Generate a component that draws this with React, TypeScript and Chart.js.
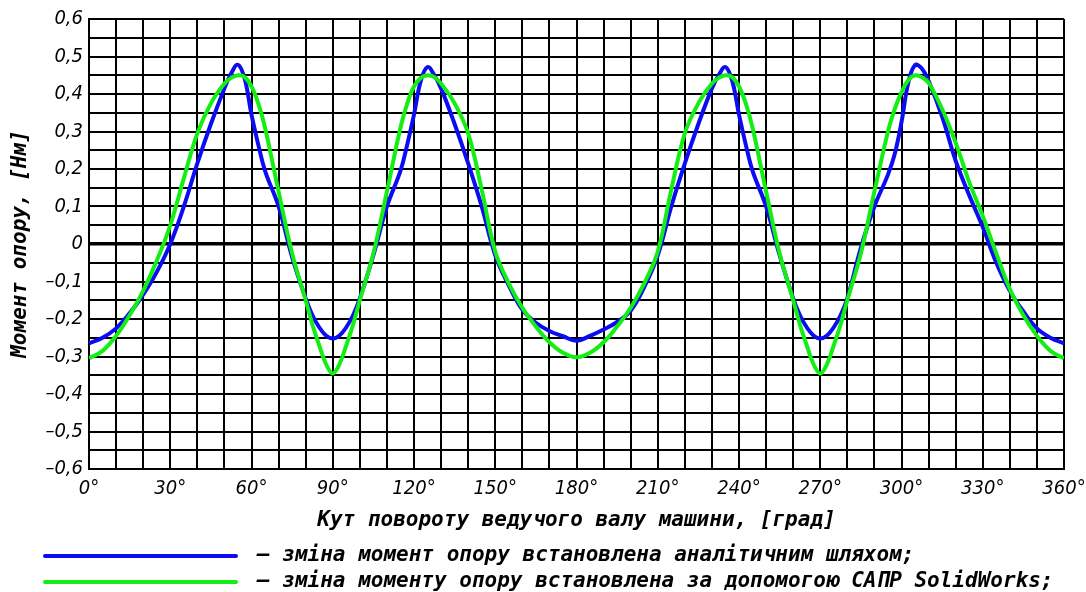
import { useEffect, useRef } from 'react';
import { Chart, registerables } from 'chart.js';

Chart.register(...registerables);

// Angle of the drive shaft, degrees
const angles = [
  0, 5, 10, 15, 20, 25, 30, 35, 40, 45, 50, 52.5, 55, 57.5, 60, 62.5, 65, 70, 75, 80,
  82.5, 85, 87.5, 90, 92.5, 95, 97.5, 100, 105, 110, 115, 117.5, 120, 122.5, 125, 127.5,
  130, 135, 140, 145, 150, 155, 160, 165, 170, 175, 180, 185, 190, 195, 200, 205, 210,
  215, 220, 225, 230, 232.5, 235, 237.5, 240, 242.5, 245, 250, 255, 260, 262.5, 265,
  267.5, 270, 272.5, 275, 277.5, 280, 285, 290, 295, 297.5, 300, 302.5, 305, 307.5, 310,
  315, 320, 325, 330, 335, 340, 345, 350, 355, 360,
];

// Analytic resistance moment, N·m
const analyticMoment = [
  -0.265, -0.25, -0.225, -0.185, -0.135, -0.075, 0.0, 0.1, 0.215, 0.32, 0.415, 0.455, 0.478,
  0.44, 0.345, 0.265, 0.195, 0.1, -0.035, -0.145, -0.19, -0.222, -0.244, -0.252, -0.244,
  -0.222, -0.19, -0.145, -0.03, 0.1, 0.195, 0.265, 0.345, 0.435, 0.472, 0.45, 0.415, 0.32,
  0.215, 0.1, -0.03, -0.11, -0.175, -0.21, -0.232, -0.246, -0.258, -0.245, -0.228, -0.208,
  -0.178, -0.115, -0.03, 0.1, 0.215, 0.32, 0.415, 0.45, 0.472, 0.435, 0.345, 0.265, 0.195,
  0.1, -0.03, -0.145, -0.19, -0.222, -0.244, -0.252, -0.244, -0.222, -0.19, -0.145, -0.01,
  0.1, 0.185, 0.24, 0.325, 0.43, 0.477, 0.468, 0.435, 0.34, 0.222, 0.13, 0.045, -0.05,
  -0.125, -0.18, -0.225, -0.25, -0.265,
];

// SolidWorks resistance moment, N·m
const solidWorksMoment = [
  -0.305, -0.285, -0.245, -0.19, -0.125, -0.045, 0.05, 0.175, 0.295, 0.375, 0.428, 0.443, 0.45,
  0.445, 0.42, 0.375, 0.31, 0.14, -0.025, -0.15, -0.215, -0.27, -0.32, -0.345, -0.32,
  -0.27, -0.215, -0.15, -0.025, 0.14, 0.31, 0.375, 0.42, 0.443, 0.45, 0.445, 0.428, 0.375,
  0.295, 0.145, -0.02, -0.105, -0.17, -0.22, -0.262, -0.29, -0.302, -0.29, -0.262, -0.22,
  -0.17, -0.105, -0.02, 0.145, 0.295, 0.375, 0.428, 0.443, 0.45, 0.445, 0.42, 0.375, 0.31, 0.14,
  -0.025, -0.15, -0.215, -0.27, -0.32, -0.345, -0.32, -0.27, -0.215, -0.15, -0.025,
  0.14, 0.3, 0.36, 0.405, 0.437, 0.45, 0.445, 0.43, 0.36, 0.27, 0.165, 0.075, -0.025, -0.12,
  -0.19, -0.245, -0.285, -0.305,
];

const xTickLabels = ['0°', '30°', '60°', '90°', '120°', '150°', '180°', '210°', '240°', '270°', '300°', '330°', '360°'];
const yTickLabels = ['–0,6', '–0,5', '–0,4', '–0,3', '–0,2', '–0,1', '0', '0,1', '0,2', '0,3', '0,4', '0,5', '0,6'];

const seriesLabels = [
  '– зміна момент опору встановлена аналітичним шляхом;',
  '– зміна моменту опору встановлена за допомогою САПР SolidWorks;',
];
const xTitle = 'Кут повороту ведучого валу машини, [град]';
const yTitle = 'Момент опору, [Нм]';

const BLUE = '#0c0cf2';
const GREEN = '#14ee14';

const tickFont = {
  family: "'DejaVu Sans Condensed', 'Liberation Sans Narrow', 'DejaVu Sans', sans-serif",
  size: 20,
  style: 'italic' as const,
  weight: 'normal' as const,
};
const titleFont = {
  family: "'DejaVu Sans Mono', monospace",
  size: 21,
  style: 'italic' as const,
  weight: 'bold' as const,
};

export default function App() {
  const canvasRef = useRef<HTMLCanvasElement | null>(null);

  useEffect(() => {
    if (!canvasRef.current) return;
    const chart = new Chart(canvasRef.current, {
      type: 'line',
      data: {
        datasets: [
          {
            label: seriesLabels[0],
            data: angles.map((a, i) => ({ x: a, y: analyticMoment[i] })),
            borderColor: BLUE,
            backgroundColor: BLUE,
            borderWidth: 4,
            pointRadius: 0,
            tension: 0.4,
            order: 2,
          },
          {
            label: seriesLabels[1],
            data: angles.map((a, i) => ({ x: a, y: solidWorksMoment[i] })),
            borderColor: GREEN,
            backgroundColor: GREEN,
            borderWidth: 4,
            pointRadius: 0,
            tension: 0.4,
            order: 1,
          },
        ],
      },
      options: {
        responsive: false,
        animation: false,
        devicePixelRatio: 1,
        layout: { padding: { top: 19, right: 22, bottom: 52, left: 0 } },
        plugins: {
          legend: { display: false },
          tooltip: { enabled: false },
        },
        scales: {
          x: {
            type: 'linear',
            min: 0,
            max: 360,
            afterFit: (s: any) => {
              s.height = 71;
              s.paddingLeft = 0;
              s.paddingRight = 0;
            },
            ticks: {
              stepSize: 10,
              autoSkip: false,
              maxRotation: 0,
              padding: 8,
              color: '#000',
              font: tickFont,
              callback: (v: any) => {
                const i = Math.round(Number(v) / 10);
                return i % 3 === 0 ? xTickLabels[i / 3] : '';
              },
            },
            grid: { color: '#000', lineWidth: 2, drawTicks: false },
            border: { display: true, color: '#000', width: 2 },
            title: {
              display: true,
              text: xTitle,
              color: '#000',
              font: titleFont,
              padding: { top: 0, bottom: 7 },
            },
          },
          y: {
            min: -0.6,
            max: 0.6,
            afterFit: (s: any) => {
              s.width = 89;
            },
            ticks: {
              stepSize: 0.05,
              autoSkip: false,
              padding: 6,
              color: '#000',
              font: tickFont,
              callback: (v: any) => {
                const i = Math.round(Number(v) * 20);
                return i % 2 === 0 ? yTickLabels[i / 2 + 6] : '';
              },
            },
            grid: {
              color: '#000',
              drawTicks: false,
              lineWidth: (ctx: any) => (ctx.tick && Math.round(ctx.tick.value * 20) === 0 ? 3.5 : 2),
            },
            border: { display: true, color: '#000', width: 2 },
            title: {
              display: true,
              text: yTitle,
              color: '#000',
              font: titleFont,
              padding: { top: 8, bottom: 0 },
            },
          },
        },
      },
    });
    return () => chart.destroy();
  }, []);

  const legendText: React.CSSProperties = {
    position: 'absolute',
    left: 257,
    fontFamily: "'DejaVu Sans Mono', monospace",
    fontStyle: 'italic',
    fontWeight: 'bold',
    fontSize: 21,
    lineHeight: '26px',
    whiteSpace: 'pre',
    color: '#000',
  };

  return (
    <div style={{ position: 'absolute', left: 0, top: 0, width: 1086, height: 592, background: '#fff', overflow: 'hidden' }}>
      <canvas ref={canvasRef} width={1086} height={592} style={{ position: 'absolute', left: 0, top: 0 }} />
      <div style={{ position: 'absolute', left: 43, top: 554, width: 195, height: 4, background: BLUE, borderRadius: 2 }} />
      <div style={{ ...legendText, top: 541 }}>{seriesLabels[0]}</div>
      <div style={{ position: 'absolute', left: 43, top: 580, width: 195, height: 4, background: GREEN, borderRadius: 2 }} />
      <div style={{ ...legendText, top: 567 }}>{seriesLabels[1]}</div>
    </div>
  );
}
